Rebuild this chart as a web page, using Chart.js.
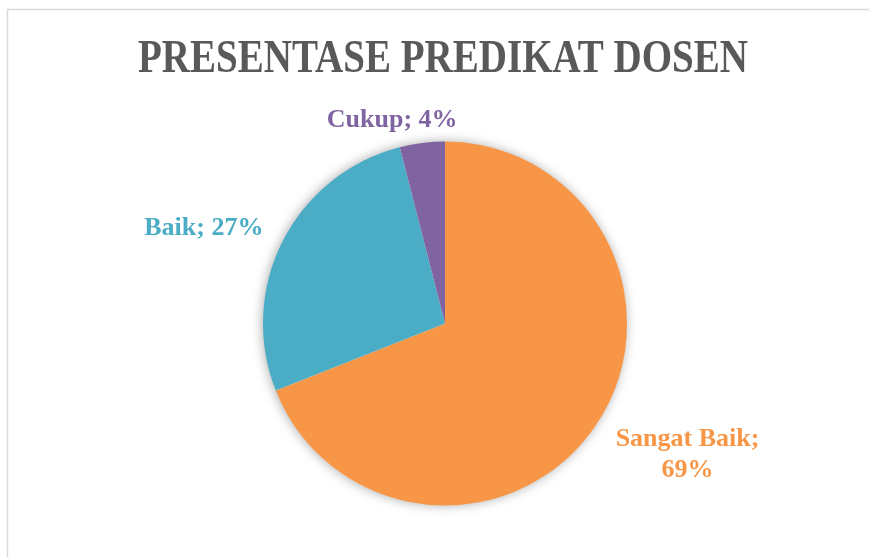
<!DOCTYPE html>
<html>
<head>
<meta charset="utf-8">
<script src="https://cdn.jsdelivr.net/npm/chart.js@4.4.1/dist/chart.umd.min.js"></script>
<style>
  html, body { margin: 0; padding: 0; background: #fff; }
  #wrap { position: relative; width: 869px; height: 557px; }
  canvas { display: block; }
</style>
</head>
<body>
<div id="wrap"><canvas id="c" width="869" height="557"></canvas></div>
<script>
const chartTitle = "PRESENTASE PREDIKAT DOSEN";
const categories = ["Sangat Baik", "Baik", "Cukup"];
const percentValues = [69, 27, 4];
const sliceColors = ["#F79646", "#4BACC6", "#8064A2"];
// label placement relative to the outer edge of each slice (style only)
const labelOffsets = [[92, 29], [-79, -13], [-30, -23]];
const labelLines = [["Sangat Baik;", "69%"], ["Baik; 27%"], ["Cukup; 4%"]];

const borderPlugin = {
  id: 'frame',
  beforeDraw(chart) {
    const ctx = chart.ctx;
    ctx.save();
    ctx.fillStyle = '#fff';
    ctx.fillRect(0, 0, chart.width, chart.height);
    ctx.strokeStyle = '#D9D9D9';
    ctx.lineWidth = 1.5;
    ctx.beginPath();
    ctx.moveTo(7.5, chart.height + 2);
    ctx.lineTo(7.5, 9.5);
    ctx.lineTo(chart.width + 2, 9.5);
    ctx.stroke();
    ctx.restore();
  }
};

const shadowPlugin = {
  id: 'pieShadow',
  beforeDatasetsDraw(chart) {
    const ctx = chart.ctx;
    const meta = chart.getDatasetMeta(0);
    const a = meta.data[0];
    ctx.save();
    ctx.shadowColor = 'rgba(0,0,0,0.35)';
    ctx.shadowBlur = 12;
    ctx.shadowOffsetX = -1;
    ctx.shadowOffsetY = 0;
    ctx.fillStyle = '#fff';
    ctx.beginPath();
    ctx.arc(a.x, a.y, a.outerRadius - 0.5, 0, Math.PI * 2);
    ctx.fill();
    ctx.restore();
  }
};

const titlePlugin = {
  id: 'condensedTitle',
  afterDraw(chart) {
    const ctx = chart.ctx;
    ctx.save();
    ctx.font = 'bold 47px "Liberation Serif", serif';
    ctx.fillStyle = '#595959';
    ctx.textBaseline = 'alphabetic';
    const w = ctx.measureText(chartTitle).width;
    const sx = 610 / w;
    ctx.translate(443, 72);
    ctx.scale(sx, 1);
    ctx.textAlign = 'center';
    ctx.fillText(chartTitle, 0, 0);
    ctx.restore();
  }
};

const labelPlugin = {
  id: 'sliceLabels',
  afterDatasetsDraw(chart) {
    const ctx = chart.ctx;
    const meta = chart.getDatasetMeta(0);
    ctx.save();
    ctx.font = 'bold 26px "Liberation Serif", serif';
    ctx.textAlign = 'center';
    ctx.textBaseline = 'middle';
    meta.data.forEach((arc, i) => {
      const mid = (arc.startAngle + arc.endAngle) / 2;
      const ox = arc.x + Math.cos(mid) * arc.outerRadius;
      const oy = arc.y + Math.sin(mid) * arc.outerRadius;
      const cx = ox + labelOffsets[i][0];
      const cy = oy + labelOffsets[i][1];
      const lines = labelLines[i];
      const lh = 31;
      ctx.fillStyle = sliceColors[i];
      lines.forEach((t, k) => {
        ctx.fillText(t, cx, cy + (k - (lines.length - 1) / 2) * lh);
      });
    });
    ctx.restore();
  }
};

new Chart(document.getElementById('c'), {
  type: 'pie',
  data: {
    labels: categories,
    datasets: [{
      data: percentValues,
      backgroundColor: sliceColors,
      borderWidth: 0
    }]
  },
  options: {
    responsive: false,
    animation: false,
    layout: { padding: { top: 141.5, bottom: 51.5, left: 100, right: 79 } },
    plugins: {
      legend: { display: false },
      title: { display: false },
      tooltip: { enabled: false }
    }
  },
  plugins: [borderPlugin, shadowPlugin, titlePlugin, labelPlugin]
});
</script>
</body>
</html>
